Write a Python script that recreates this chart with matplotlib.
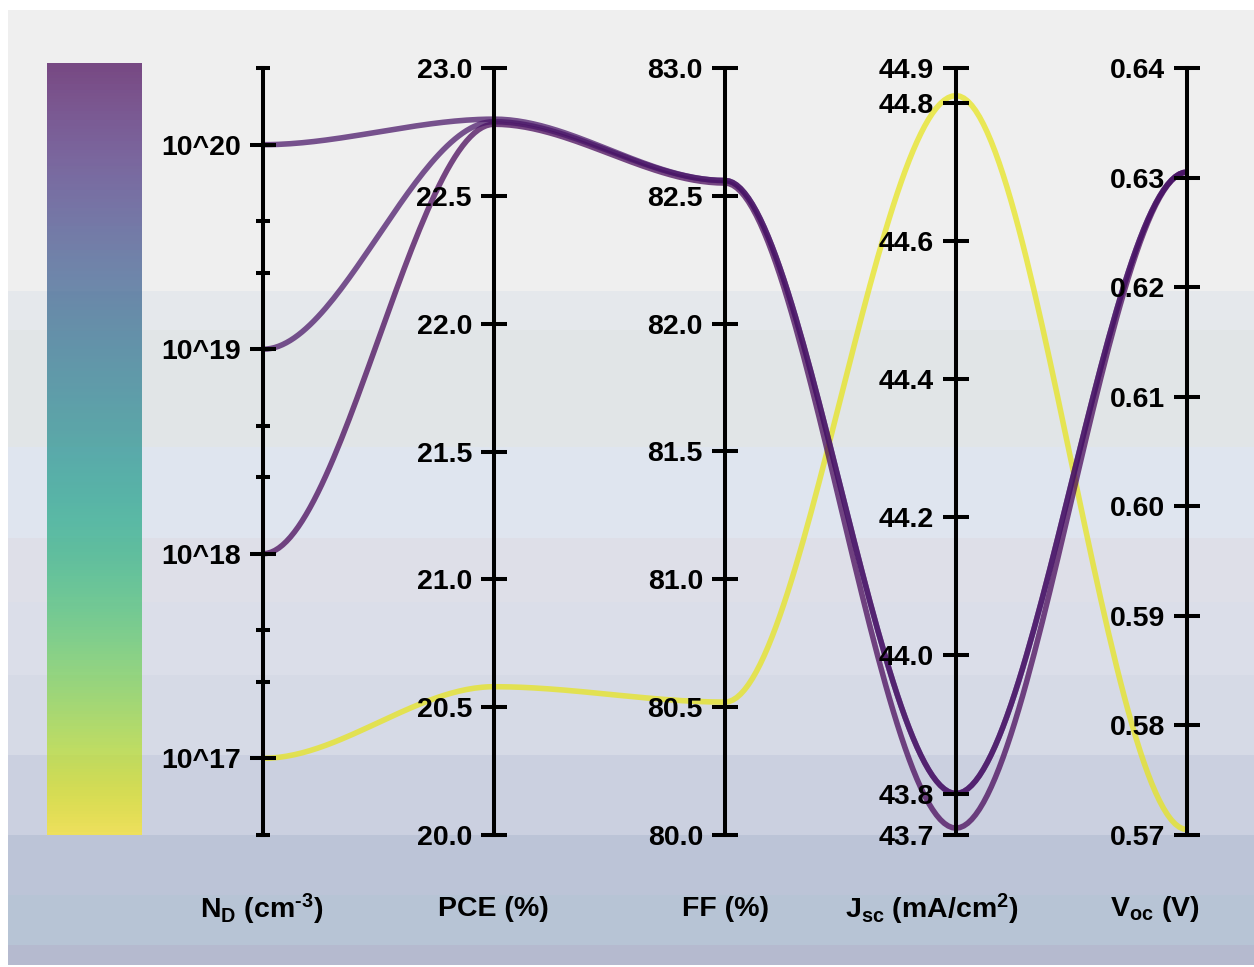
import numpy as np
import matplotlib.pyplot as plt
from matplotlib.patches import Rectangle
from matplotlib.ticker import FixedLocator, FixedFormatter, NullFormatter

plt.rcParams['font.family'] = ['Liberation Sans', 'DejaVu Sans']
plt.rcParams['font.weight'] = 'bold'
plt.rcParams['mathtext.default'] = 'regular'

# device parameters for four donor doping levels
nd = [1e17, 1e18, 1e19, 1e20]
pce = [20.58, 22.78, 22.79, 22.80]
ff = [80.52, 82.55, 82.56, 82.56]
jsc = [44.81, 43.75, 43.80, 43.80]
voc = [0.5705, 0.6305, 0.6305, 0.6305]

nd_ticks = [1e17, 1e18, 1e19, 1e20]
nd_labels = ['10^17', '10^18', '10^19', '10^20']
nd_minor = [10 ** e for e in (16.625, 17.375, 17.625, 18.375, 18.625, 19.375, 19.625, 20.375)]
pce_ticks = [20.0, 20.5, 21.0, 21.5, 22.0, 22.5, 23.0]
pce_labels = ['20.0', '20.5', '21.0', '21.5', '22.0', '22.5', '23.0']
ff_ticks = [80.0, 80.5, 81.0, 81.5, 82.0, 82.5, 83.0]
ff_labels = ['80.0', '80.5', '81.0', '81.5', '82.0', '82.5', '83.0']
jsc_ticks = [43.74, 43.8, 44.0, 44.2, 44.4, 44.6, 44.8, 44.85]
jsc_labels = ['43.7', '43.8', '44.0', '44.2', '44.4', '44.6', '44.8', '44.9']
voc_ticks = [0.57, 0.58, 0.59, 0.60, 0.61, 0.62, 0.63, 0.64]
voc_labels = ['0.57', '0.58', '0.59', '0.60', '0.61', '0.62', '0.63', '0.64']

titles = [r'N$_\mathregular{D}$ (cm$^\mathregular{‐3}$)', 'PCE (%)', 'FF (%)',
          r'J$_\mathregular{sc}$ (mA/cm$^\mathregular{2}$)', r'V$_\mathregular{oc}$ (V)']

columns = [nd, pce, ff, jsc, voc]
limits = [(10 ** 16.625, 10 ** 20.375), (20.0, 23.0), (80.0, 83.0), (43.74, 44.85), (0.57, 0.64)]
ticks = [nd_ticks, pce_ticks, ff_ticks, jsc_ticks, voc_ticks]
labels = [nd_labels, pce_labels, ff_labels, jsc_labels, voc_labels]

W, H = 1254, 967
fig = plt.figure(figsize=(W / 100, H / 100), dpi=100)

# hazy banded backdrop
bg = fig.add_axes([0, 0, 1, 1], zorder=-10)
bg.set_xlim(0, W)
bg.set_ylim(H, 0)
bg.axis('off')
bands = [(10, 291, '#efefef'), (291, 330, '#e5e8ec'), (330, 447, '#e1e5e7'),
         (447, 538, '#dfe5ef'), (538, 602, '#dedfe8'), (602, 675, '#dbdee9'),
         (675, 755, '#d6dae6'), (755, 835, '#cbd0e0'), (835, 895, '#bcc4d7'),
         (895, 945, '#b7c4d5'), (945, 965, '#b5bacf')]
for y0, y1, c in bands:
    bg.add_patch(Rectangle((8, y0), W - 8, y1 - y0, color=c, lw=0))


def fx(px):
    return px / W


def fy(py):
    return 1 - py / H


left, right, top, bottom = 263, 1187, 68, 835
host = fig.add_axes([fx(left), fy(bottom), fx(right - left), fy(top) - fy(bottom)])
host.set_xlim(0, 4)
host.set_ylim(0, 1)
host.axis('off')


def scaled(i, v):
    lo, hi = limits[i]
    if i == 0:
        return (np.log10(v) - np.log10(lo)) / (np.log10(hi) - np.log10(lo))
    return (v - lo) / (hi - lo)


# line colour follows Jsc; each segment eases flat into both axes
jlo, jhi = limits[3]
cmap = plt.get_cmap('viridis')
s = np.linspace(0, 1, 60)
ease = 3 * s ** 2 - 2 * s ** 3
for k in range(len(nd)):
    ys = [scaled(i, columns[i][k]) for i in range(5)]
    xs_all, ys_all = [], []
    for i in range(4):
        xs_all.append(i + s)
        ys_all.append(ys[i] + (ys[i + 1] - ys[i]) * ease)
    color = cmap((jsc[k] - jlo) / (jhi - jlo))
    host.plot(np.concatenate(xs_all), np.concatenate(ys_all), color=color,
              lw=4.0, alpha=0.72, solid_capstyle='butt', zorder=3)

# one vertical axis per parameter
for i in range(5):
    ax = host.twinx()
    if i == 0:
        ax.set_yscale('log')
    ax.set_ylim(limits[i])
    for side in ('top', 'bottom', 'right'):
        ax.spines[side].set_visible(False)
    ax.spines['left'].set_visible(True)
    ax.spines['left'].set_position(('data', i))
    ax.spines['left'].set_linewidth(2.9)
    ax.yaxis.set_ticks_position('left')
    ax.yaxis.set_major_locator(FixedLocator(ticks[i]))
    ax.yaxis.set_major_formatter(FixedFormatter(labels[i]))
    if i == 0:
        ax.yaxis.set_minor_locator(FixedLocator(nd_minor))
    else:
        ax.yaxis.set_minor_locator(FixedLocator([]))
    ax.yaxis.set_minor_formatter(NullFormatter())
    ax.tick_params(axis='y', which='major', direction='inout', length=19.4, width=2.9,
                   pad=6.2, labelsize=20.5, colors='black')
    ax.tick_params(axis='y', which='minor', direction='inout', length=9.4, width=2.9)
    for t in ax.get_yticklabels():
        t.set_fontweight('bold')

# colour bar strip
cax = fig.add_axes([fx(47), fy(835), fx(95), fy(63) - fy(835)])
cax.imshow(np.linspace(0, 1, 256)[:, None], aspect='auto', cmap='viridis', alpha=0.7)
cax.axis('off')

title_x = [262, 493, 725, 932, 1155]
for tx, t in zip(title_x, titles):
    fig.text(fx(tx), fy(909), t, ha='center', va='center', fontsize=20.5, fontweight='bold')

fig.savefig('out.png', dpi=100)
